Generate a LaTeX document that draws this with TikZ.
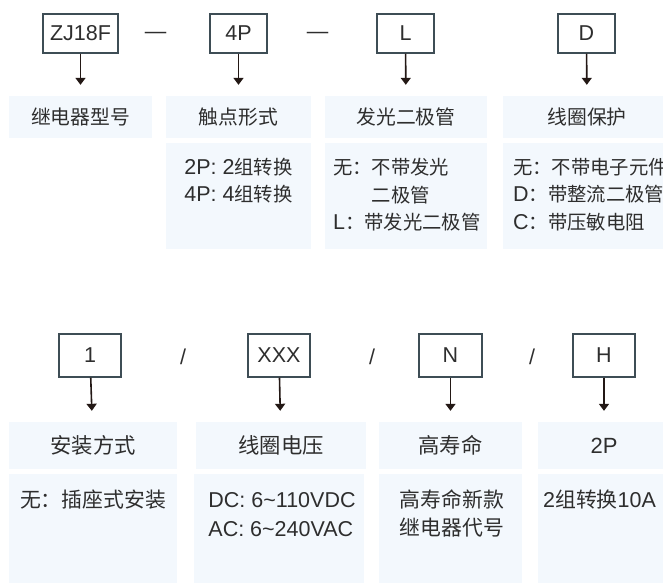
\documentclass[tikz,border=0pt]{standalone}
\usepackage{fontspec}
\setmainfont{Liberation Sans}
\newfontfamily\cjk[Scale=0.9]{Noto Sans CJK SC}
\newfontfamily\cjkb[Scale=0.97]{Noto Sans CJK SC}
\usetikzlibrary{arrows.meta, positioning}
\definecolor{boxline}{HTML}{3E4D55}
\definecolor{cellfill}{HTML}{F3F8FD}
\definecolor{txtgray}{HTML}{2E2E2E}
\definecolor{arrowdark}{HTML}{231815}

\begin{document}
\begin{tikzpicture}
                [x=1pt, y=-1pt,
                csty/.style={draw=boxline, line width=1.4pt, inner sep=0pt, minimum height=39pt, font=\fontsize{21.5}{24}\selectfont, text=txtgray},
                lsty/.style={fill=cellfill, inner sep=0pt, font=\fontsize{22}{24}\selectfont, text=txtgray},
                bsty/.style={fill=cellfill, inner sep=0pt},
                dsty/.style={inner sep=0pt, align=left, font=\fontsize{21.5}{27.5}\selectfont, text=txtgray},
                ssty/.style={inner sep=0pt, font=\fontsize{21.5}{24}\selectfont, text=txtgray},
                asty/.style={-{Triangle[width=10pt,length=7pt]}, line width=1.6pt, draw=arrowdark, shorten >=11pt}]
                \useasboundingbox (0,0) rectangle (663,584);
                % code boxes, upper row
                \node[csty, minimum width=75pt] (zj)   at (80.5,33.5)  {ZJ18F};
                \node[csty, minimum width=57pt] (pole) at (238.5,33.5) {4P};
                \node[csty, minimum width=57pt] (led)  at (405.5,33.5) {L};
                \node[csty, minimum width=57pt] (prot) at (586.5,33.5) {D};
                \node[ssty] (dash1) at (155.5,35) {—};
                \node[ssty] (dash2) at (317.5,35) {—};
                % labels, upper row
                \node[lsty, minimum width=143pt, minimum height=42pt] (zjlab)   at (80.5,117)  {\cjk 继电器型号};
                \node[lsty, minimum width=145pt, minimum height=42pt] (polelab) at (238.5,117) {\cjk 触点形式};
                \node[lsty, minimum width=162pt, minimum height=42pt] (ledlab)  at (406,117)   {\cjk 发光二极管};
                \node[lsty, minimum width=168pt, minimum height=42pt] (protlab) at (587,117)   {\cjk 线圈保护};
                % descriptions, upper row
                \node[bsty, minimum width=145pt, minimum height=106pt] (polebox) at (238.5,196) {};
                \node[bsty, minimum width=162pt, minimum height=106pt] (ledbox)  at (406,196)   {};
                \node[bsty, minimum width=168pt, minimum height=106pt] (protbox) at (587,196)   {};
                \node[dsty, anchor=north] (poletxt) at (238.5,158)
                    {2P: 2{\cjk 组转换}\\4P: 4{\cjk 组转换}};
                \node[dsty, anchor=north west] (ledtxt) at (333,158)
                    {{\cjk 无：不带发光}\\{\cjk 　　二极管}\\L{\cjk ：带发光二极管}};
                \node[dsty, anchor=north west] (prottxt) at (513,158)
                    {{\cjk 无：不带电子元件}\\D{\cjk ：带整流二极管}\\C{\cjk ：带压敏电阻}};
                % code boxes, lower row
                \node[csty, minimum width=62pt, minimum height=43pt] (mount) at (90,355.5)  {1};
                \node[csty, minimum width=62pt, minimum height=43pt] (volt)  at (279,355.5) {XXX};
                \node[csty, minimum width=63pt, minimum height=43pt] (life)  at (450.5,355.5) {N};
                \node[csty, minimum width=62pt, minimum height=43pt] (hh)    at (604,355.5) {H};
                \node[ssty] (slash1) at (183,357) {/};
                \node[ssty] (slash2) at (372,357) {/};
                \node[ssty] (slash3) at (532,357) {/};
                % labels, lower row
                \node[lsty, minimum width=168pt, minimum height=47pt] (mountlab) at (93,445.5)    {\cjkb 安装方式};
                \node[lsty, minimum width=170pt, minimum height=47pt] (voltlab)  at (281,445.5)   {\cjkb 线圈电压};
                \node[lsty, minimum width=143pt, minimum height=47pt] (lifelab)  at (450.5,445.5) {\cjkb 高寿命};
                \node[lsty, minimum width=132pt, minimum height=47pt] (hhlab)    at (604,445.5)   {2P};
                % descriptions, lower row
                \node[bsty, minimum width=168pt, minimum height=109pt] (mountbox) at (93,528.5)    {};
                \node[bsty, minimum width=170pt, minimum height=109pt] (voltbox)  at (279,528.5)   {};
                \node[bsty, minimum width=143pt, minimum height=109pt] (lifebox)  at (450.5,528.5) {};
                \node[bsty, minimum width=132pt, minimum height=109pt] (hhbox)    at (604,528.5)   {};
                \node[dsty, anchor=north] (mounttxt) at (93,490) {\cjkb 无：插座式安装};
                \node[dsty, anchor=north, font=\fontsize{21.5}{29}\selectfont] (volttxt) at (282,492)
                    {DC: 6\textasciitilde110VDC\\AC: 6\textasciitilde240VAC};
                \node[dsty, anchor=north, align=center, font=\fontsize{21.5}{28}\selectfont] (lifetxt) at (452,490)
                    {{\cjkb 高寿命新款}\\{\cjkb 继电器代号}};
                \node[dsty, anchor=north west] (hhtxt) at (543,490) {2{\cjkb 组转换}10A};
                % arrows
                \draw[asty] (zj)   -- (zjlab);
                \draw[asty] (pole) -- (polelab);
                \draw[asty] (led)  -- (ledlab);
                \draw[asty] (prot) -- (protlab);
                \draw[asty] (mount) -- (mountlab);
                \draw[asty] (volt)  -- (voltlab);
                \draw[asty] (life)  -- (lifelab);
                \draw[asty] (hh)    -- (hhlab);
            \end{tikzpicture}
\end{document}
